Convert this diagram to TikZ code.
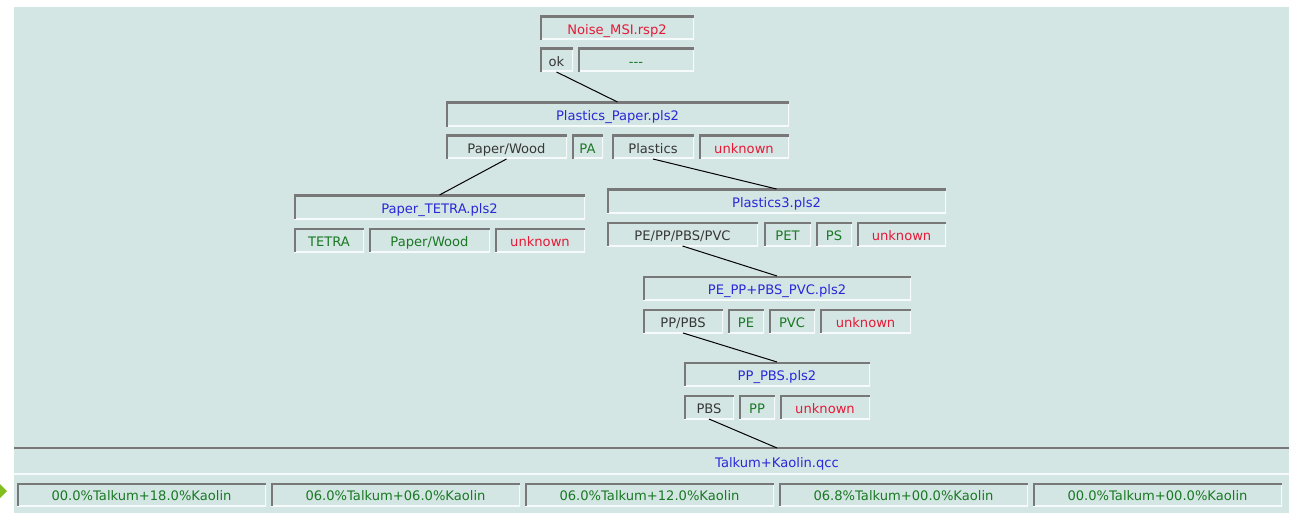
\documentclass[tikz,border=0pt]{standalone}
\usepackage{fontspec}
\setmainfont{DejaVu Sans}
\definecolor{bg}{RGB}{212,230,228}
\definecolor{edgedark}{RGB}{120,120,120}
\definecolor{edgelight}{RGB}{246,250,250}
\definecolor{tblue}{RGB}{40,40,215}
\definecolor{tred}{RGB}{230,25,55}
\definecolor{tgreen}{RGB}{25,120,35}
\definecolor{tgray}{RGB}{55,55,55}
\definecolor{arrowgreen}{RGB}{130,190,30}
\begin{document}
\begin{tikzpicture}[x=1pt,y=-1pt,
  lbl/.style={font=\fontsize{13.1}{15}\selectfont, text height=14pt, text depth=1.5pt},
  box/.style n args={4}{draw=none, fill=bg, inner sep=0pt, outer sep=0pt,
    minimum width={#3pt-#1pt}, minimum height={#4pt-#2pt},
    at={(#1,#2)}, anchor=north west, lbl, text=tgray,
    path picture={
      \draw[edgelight, line width=3pt] (path picture bounding box.south west) -- (path picture bounding box.south east) -- (path picture bounding box.north east);
      \draw[edgedark, line width=4pt] (path picture bounding box.south west) -- (path picture bounding box.north west) -- (path picture bounding box.north east);
    }},
  link/.style={draw=black, line width=1pt}
]
\useasboundingbox (0,0) rectangle (1292,513);
\fill[white] (0,0) rectangle (1292,513);
\fill[bg] (14,7) rectangle (1289,513);
\fill[arrowgreen] (0,484) -- (7,491) -- (0,498) -- cycle;

% root
\node[box={540}{16}{694}{40}, text=tred] (noise) {Noise\_MSI.rsp2};
\node[box={540}{48}{573}{72}] (ok) {ok};
\node[box={578}{48}{694}{72}, text=tgreen] (dash) {{-}{-}{-}};

% Plastics_Paper
\node[box={446}{102}{789}{127}, text=tblue] (pp) {Plastics\_Paper.pls2};
\node[box={446}{135}{567}{159}] (ppa) {Paper/Wood};
\node[box={572}{135}{603}{159}, text=tgreen] (ppb) {PA};
\node[box={612}{135}{694}{159}] (ppc) {Plastics};
\node[box={699}{135}{789}{159}, text=tred] (ppd) {unknown};

% Paper_TETRA
\node[box={294}{195}{585}{219}, text=tblue] (pt) {Paper\_TETRA.pls2};
\node[box={294}{228}{364}{252}, text=tgreen] (pta) {TETRA};
\node[box={369}{228}{490}{252}, text=tgreen] (ptb) {Paper/Wood};
\node[box={495}{228}{585}{252}, text=tred] (ptc) {unknown};

% Plastics3
\node[box={607}{189}{946}{213}, text=tblue] (p3) {Plastics3.pls2};
\node[box={607}{222}{758}{246}] (p3a) {PE/PP/PBS/PVC};
\node[box={764}{222}{811}{246}, text=tgreen] (p3b) {PET};
\node[box={816}{222}{852}{246}, text=tgreen] (p3c) {PS};
\node[box={857}{222}{946}{246}, text=tred] (p3d) {unknown};

% PE_PP+PBS_PVC
\node[box={643}{276}{911}{300}, text=tblue] (pe) {PE\_PP+PBS\_PVC.pls2};
\node[box={643}{309}{723}{333}] (pea) {PP/PBS};
\node[box={728}{309}{764}{333}, text=tgreen] (peb) {PE};
\node[box={769}{309}{815}{333}, text=tgreen] (pec) {PVC};
\node[box={820}{309}{911}{333}, text=tred] (ped) {unknown};

% PP_PBS
\node[box={684}{362}{870}{386}, text=tblue] (pb) {PP\_PBS.pls2};
\node[box={684}{395}{734}{419}] (pba) {PBS};
\node[box={739}{395}{775}{419}, text=tgreen] (pbb) {PP};
\node[box={780}{395}{870}{419}, text=tred] (pbc) {unknown};

% bottom band
\draw[edgedark, line width=2pt] (14,448) -- (1289,448);
\draw[edgelight, line width=2pt] (14,474) -- (1289,474);
\node[lbl, text=tblue, minimum height=26pt, inner sep=0pt, outer sep=0pt, anchor=north] (qcc) at (777,448) {Talkum+Kaolin.qcc};
\node[box={17}{483}{266}{506}, text=tgreen] (q1) {00.0\%Talkum+18.0\%Kaolin};
\node[box={271}{483}{520}{506}, text=tgreen] (q2) {06.0\%Talkum+06.0\%Kaolin};
\node[box={525}{483}{774}{506}, text=tgreen] (q3) {06.0\%Talkum+12.0\%Kaolin};
\node[box={779}{483}{1028}{506}, text=tgreen] (q4) {06.8\%Talkum+00.0\%Kaolin};
\node[box={1033}{483}{1282}{506}, text=tgreen] (q5) {00.0\%Talkum+00.0\%Kaolin};

% links
\draw[link] (ok.south) -- (pp.north);
\draw[link] (ppa.south) -- (pt.north);
\draw[link] (ppc.south) -- (p3.north);
\draw[link] (p3a.south) -- (pe.north);
\draw[link] (pea.south) -- (pb.north);
\draw[link] (pba.south) -- (qcc.north);
\end{tikzpicture}
\end{document}
